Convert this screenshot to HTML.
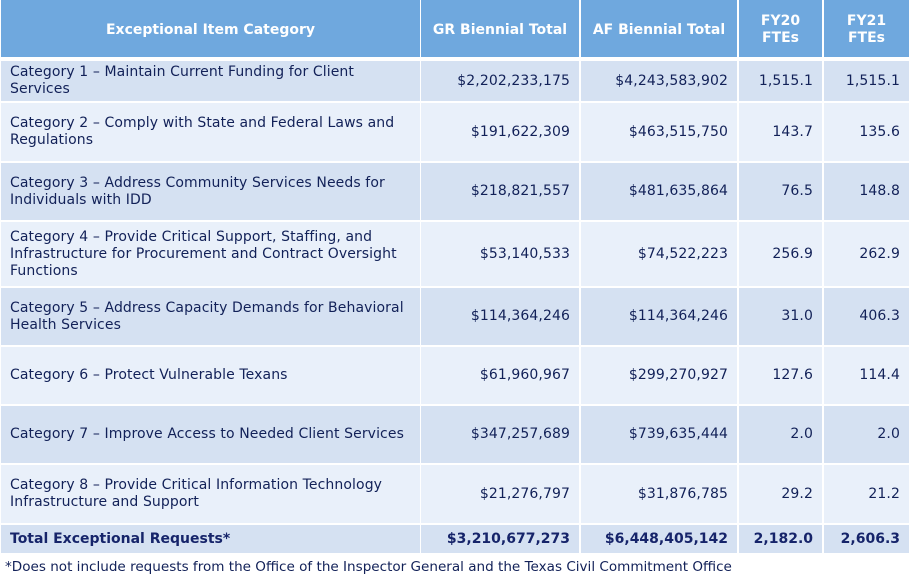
<!DOCTYPE html>
<html>
<head>
<meta charset="utf-8">
<style>
  html, body { margin: 0; padding: 0; background: #ffffff; }
  body { width: 911px; height: 578px; position: relative; overflow: hidden;
         font-family: "DejaVu Sans", "Liberation Sans", sans-serif; font-size: 14px; color: #122158; }
  .c { position: absolute; display: flex; align-items: center; box-sizing: border-box; line-height: 17px; white-space: nowrap; }
  .h { background: #6fa8de; color: #ffffff; font-weight: bold; justify-content: center; text-align: center; padding-top: 3px; }
  .d { background: #d5e1f2; }
  .l { background: #e9f0fa; }
  .t { padding-left: 9px; letter-spacing: 0.1px; }
  .n { justify-content: flex-end; padding-right: 9px; letter-spacing: 0.1px; }
  .b { font-weight: bold; color: #16246a; letter-spacing: 0; }
  .foot { position: absolute; left: 5px; top: 559px; line-height: 17px; white-space: nowrap; color: #122158; font-size: 13.55px; }
</style>
</head>
<body>
<!-- header -->
<div class="c h" style="left:1px;top:0;width:419px;height:57px;">Exceptional Item Category</div>
<div class="c h" style="left:421px;top:0;width:158px;height:57px;">GR Biennial Total</div>
<div class="c h" style="left:581px;top:0;width:156px;height:57px;">AF Biennial Total</div>
<div class="c h" style="left:739px;top:0;width:83px;height:57px;">FY20<br>FTEs</div>
<div class="c h" style="left:824px;top:0;width:85px;height:57px;">FY21<br>FTEs</div>

<!-- row 1 -->
<div class="c d t" style="left:1px;top:61px;width:419px;height:40px;">Category 1 – Maintain Current Funding for Client<br>Services</div>
<div class="c d n" style="left:421px;top:61px;width:158px;height:40px;">$2,202,233,175</div>
<div class="c d n" style="left:581px;top:61px;width:156px;height:40px;">$4,243,583,902</div>
<div class="c d n" style="left:739px;top:61px;width:83px;height:40px;">1,515.1</div>
<div class="c d n" style="left:824px;top:61px;width:85px;height:40px;">1,515.1</div>

<!-- row 2 -->
<div class="c l t" style="left:1px;top:103px;width:419px;height:58px;">Category 2 – Comply with State and Federal Laws and<br>Regulations</div>
<div class="c l n" style="left:421px;top:103px;width:158px;height:58px;">$191,622,309</div>
<div class="c l n" style="left:581px;top:103px;width:156px;height:58px;">$463,515,750</div>
<div class="c l n" style="left:739px;top:103px;width:83px;height:58px;">143.7</div>
<div class="c l n" style="left:824px;top:103px;width:85px;height:58px;">135.6</div>

<!-- row 3 -->
<div class="c d t" style="left:1px;top:163px;width:419px;height:57px;">Category 3 – Address Community Services Needs for<br>Individuals with IDD</div>
<div class="c d n" style="left:421px;top:163px;width:158px;height:57px;">$218,821,557</div>
<div class="c d n" style="left:581px;top:163px;width:156px;height:57px;">$481,635,864</div>
<div class="c d n" style="left:739px;top:163px;width:83px;height:57px;">76.5</div>
<div class="c d n" style="left:824px;top:163px;width:85px;height:57px;">148.8</div>

<!-- row 4 -->
<div class="c l t" style="left:1px;top:222px;width:419px;height:64px;">Category 4 – Provide Critical Support, Staffing, and<br>Infrastructure for Procurement and Contract Oversight<br>Functions</div>
<div class="c l n" style="left:421px;top:222px;width:158px;height:64px;">$53,140,533</div>
<div class="c l n" style="left:581px;top:222px;width:156px;height:64px;">$74,522,223</div>
<div class="c l n" style="left:739px;top:222px;width:83px;height:64px;">256.9</div>
<div class="c l n" style="left:824px;top:222px;width:85px;height:64px;">262.9</div>

<!-- row 5 -->
<div class="c d t" style="left:1px;top:288px;width:419px;height:57px;">Category 5 – Address Capacity Demands for Behavioral<br>Health Services</div>
<div class="c d n" style="left:421px;top:288px;width:158px;height:57px;">$114,364,246</div>
<div class="c d n" style="left:581px;top:288px;width:156px;height:57px;">$114,364,246</div>
<div class="c d n" style="left:739px;top:288px;width:83px;height:57px;">31.0</div>
<div class="c d n" style="left:824px;top:288px;width:85px;height:57px;">406.3</div>

<!-- row 6 -->
<div class="c l t" style="left:1px;top:347px;width:419px;height:57px;">Category 6 – Protect Vulnerable Texans</div>
<div class="c l n" style="left:421px;top:347px;width:158px;height:57px;">$61,960,967</div>
<div class="c l n" style="left:581px;top:347px;width:156px;height:57px;">$299,270,927</div>
<div class="c l n" style="left:739px;top:347px;width:83px;height:57px;">127.6</div>
<div class="c l n" style="left:824px;top:347px;width:85px;height:57px;">114.4</div>

<!-- row 7 -->
<div class="c d t" style="left:1px;top:406px;width:419px;height:57px;">Category 7 – Improve Access to Needed Client Services</div>
<div class="c d n" style="left:421px;top:406px;width:158px;height:57px;">$347,257,689</div>
<div class="c d n" style="left:581px;top:406px;width:156px;height:57px;">$739,635,444</div>
<div class="c d n" style="left:739px;top:406px;width:83px;height:57px;">2.0</div>
<div class="c d n" style="left:824px;top:406px;width:85px;height:57px;">2.0</div>

<!-- row 8 -->
<div class="c l t" style="left:1px;top:465px;width:419px;height:58px;">Category 8 – Provide Critical Information Technology<br>Infrastructure and Support</div>
<div class="c l n" style="left:421px;top:465px;width:158px;height:58px;">$21,276,797</div>
<div class="c l n" style="left:581px;top:465px;width:156px;height:58px;">$31,876,785</div>
<div class="c l n" style="left:739px;top:465px;width:83px;height:58px;">29.2</div>
<div class="c l n" style="left:824px;top:465px;width:85px;height:58px;">21.2</div>

<!-- total -->
<div class="c d t b" style="left:1px;top:525px;width:419px;height:28px;">Total Exceptional Requests*</div>
<div class="c d n b" style="left:421px;top:525px;width:158px;height:28px;">$3,210,677,273</div>
<div class="c d n b" style="left:581px;top:525px;width:156px;height:28px;">$6,448,405,142</div>
<div class="c d n b" style="left:739px;top:525px;width:83px;height:28px;">2,182.0</div>
<div class="c d n b" style="left:824px;top:525px;width:85px;height:28px;">2,606.3</div>

<div class="foot">*Does not include requests from the Office of the Inspector General and the Texas Civil Commitment Office</div>
</body>
</html>
